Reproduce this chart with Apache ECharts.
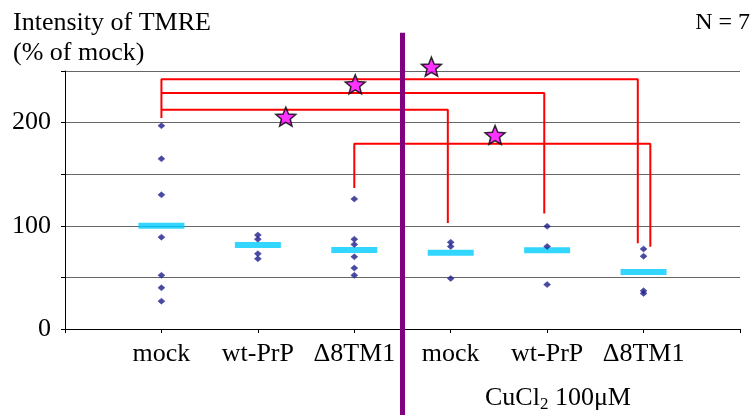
<!DOCTYPE html>
<html><head><meta charset="utf-8">
<script src="https://cdn.jsdelivr.net/npm/echarts@6/dist/echarts.min.js"></script>
<style>html,body{margin:0;padding:0;background:#fff}#c{width:753px;height:415px}</style>
</head><body><div id="c"></div>
<script>
// ---- data ----
const categories = ['mock', 'wt-PrP', 'Δ8TM1', 'mock', 'wt-PrP', 'Δ8TM1'];
const pointsMock = [197, 165, 130, 89, 52, 40, 27];
const pointsWtPrP = [91, 87, 73, 68];
const pointsD8TM1 = [126, 87, 82, 70, 59, 52];
const pointsMockCu = [84, 80, 49];
const pointsWtPrPCu = [99.5, 80, 43];
const pointsD8TM1Cu = [77.5, 70.5, 37, 34.5];
const meanValues = [100, 81.4, 76.6, 74, 76.3, 55.2];
const yLabelValues = [0, 100, 200];
// significance brackets, [category position, value]
const bracket1 = [[1, 204.5], [1, 242], [5.94, 242], [5.94, 83]];
const bracket2 = [[1, 228.7], [4.97, 228.7], [4.97, 112]];
const bracket3 = [[1, 212.5], [3.97, 212.5], [3.97, 102.7]];
const bracket4 = [[3, 136.6], [3, 179.6], [6.07, 179.6], [6.07, 79.7]];
const starPoints = [[2.29, 205.7], [3.01, 237.1], [3.8, 254.2], [4.46, 188]];
const dividerLine = [[3.5, 287], [3.5, -84]];

const FONT = '"Liberation Serif", "Times New Roman", serif';
const groups = [pointsMock, pointsWtPrP, pointsD8TM1, pointsMockCu, pointsWtPrPCu, pointsD8TM1Cu];
const scatterData = [];
groups.forEach((g, i) => g.forEach(v => scatterData.push([i + 1, v])));
const meanData = meanValues.map((v, i) => [i + 1, v]);
const STAR = 'path://M50 0 L62.93 32.2 L97.55 34.55 L70.92 56.8 L79.39 90.45 L50 72 L20.61 90.45 L29.08 56.8 L2.45 34.55 L37.07 32.2 Z';

function bracketSeries(d) {
  return { type: 'line', data: d, symbol: 'none', clip: false, z: 4, silent: true,
    lineStyle: { color: '#FF0000', width: 2 }, animation: false };
}

const chart = echarts.init(document.getElementById('c'), null, { renderer: 'canvas' });
chart.setOption({
  animation: false,
  backgroundColor: '#fff',
  textStyle: { fontFamily: FONT },
  title: [
    { text: 'Intensity of TMRE\n(% of mock)', left: 13, top: 8, padding: 0,
      textStyle: { fontFamily: FONT, fontSize: 26, fontWeight: 'normal', lineHeight: 30, color: '#000' } },
    { text: 'N = 7', right: 3, top: 8, padding: 0,
      textStyle: { fontFamily: FONT, fontSize: 24, fontWeight: 'normal', lineHeight: 30, color: '#000' } },
    { text: 'CuCl{s|2} 100μM', left: 485, top: 383, padding: 0,
      textStyle: { fontFamily: FONT, fontSize: 26, fontWeight: 'normal', lineHeight: 30, color: '#000',
        rich: { s: { fontFamily: FONT, fontSize: 17, lineHeight: 18, verticalAlign: 'bottom', color: '#000' } } } }
  ],
  grid: { left: 65, right: 13, top: 71, bottom: 86, containLabel: false },
  xAxis: {
    type: 'value', min: 0, max: 7, interval: 1,
    axisLine: { show: true, lineStyle: { color: '#000', width: 1 } },
    axisTick: { show: true, length: 4, lineStyle: { color: '#000' } },
    splitLine: { show: false },
    axisLabel: { margin: 12, fontFamily: FONT, fontSize: 26, color: '#000',
      formatter: v => (v >= 1 && v <= 6 ? categories[v - 1] : '') }
  },
  yAxis: {
    type: 'value', min: 0, max: 250, interval: 50,
    axisLine: { show: true, lineStyle: { color: '#000', width: 1 } },
    axisTick: { show: true, length: 4, lineStyle: { color: '#000' } },
    splitLine: { show: true, lineStyle: { color: '#666', width: 1 } },
    axisLabel: { margin: 14, fontFamily: FONT, fontSize: 26, color: '#000',
      formatter: v => (yLabelValues.indexOf(v) >= 0 ? String(v) : '') }
  },
  series: [
    { type: 'scatter', data: meanData, symbol: 'rect', symbolSize: [46, 6], z: 2,
      itemStyle: { color: '#00CCFF' }, silent: true },
    { type: 'scatter', data: scatterData, symbol: 'diamond', symbolSize: [7, 6], z: 3,
      itemStyle: { color: '#1C1C86', borderColor: '#3A3AA8', borderWidth: 0.6 }, silent: true },
    bracketSeries(bracket1), bracketSeries(bracket2), bracketSeries(bracket3), bracketSeries(bracket4),
    { type: 'line', data: dividerLine, symbol: 'none', clip: false, z: 5, silent: true,
      lineStyle: { color: '#800080', width: 5 } },
    { type: 'scatter', data: starPoints, symbol: STAR, symbolSize: [20, 19], clip: false, z: 6, silent: true,
      itemStyle: { color: '#FF00FF', borderColor: '#000', borderWidth: 1.5 } }
  ]
});
</script></body></html>
